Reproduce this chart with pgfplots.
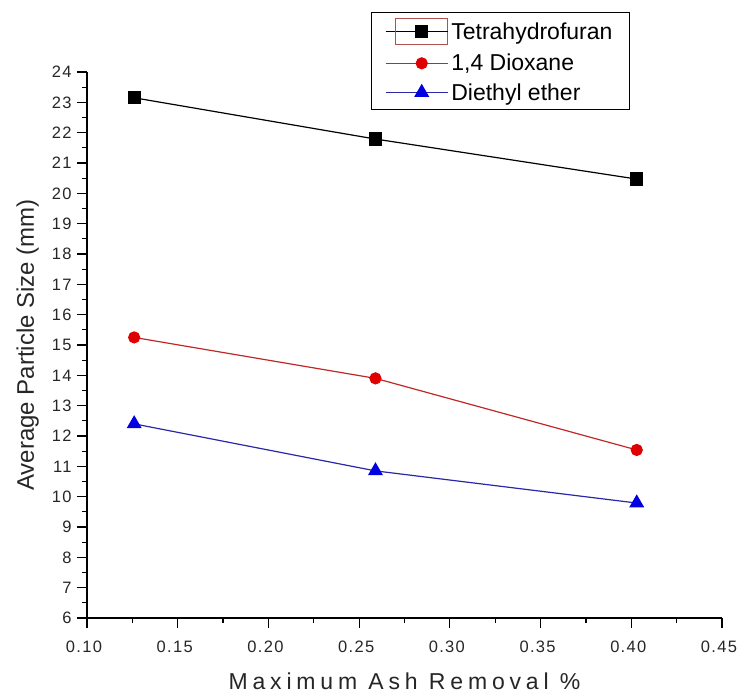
\documentclass[border=0pt]{standalone}
\usepackage{pgfplots}
\pgfplotsset{compat=1.18}
\usepackage{fontspec}
\setmainfont{Liberation Sans}
\definecolor{thf}{HTML}{000000}
\definecolor{diox}{HTML}{E00000}
\definecolor{dioxline}{HTML}{C02828}
\definecolor{ether}{HTML}{0000E0}
\definecolor{etherline}{HTML}{2828A8}
\definecolor{selbox}{HTML}{B05050}
\pgfplotsset{
  plainimg/.style={legend image code/.code={
     \path (-10pt,0pt) -- (52pt,0pt);
     \draw[mark repeat=2,mark phase=2,##1] plot coordinates {(0pt,0pt) (26pt,0pt) (52pt,0pt)};}},
  selimg/.style={legend image code/.code={
     \path (-10pt,0pt) -- (52pt,0pt);
     \draw[selbox, line width=0.8pt] (0pt,-13pt) rectangle (52pt,13pt);
     \draw[mark repeat=2,mark phase=2,##1] plot coordinates {(0pt,0pt) (26pt,0pt) (52pt,0pt)};}},
}

\begin{document}
\begin{tikzpicture}
\begin{axis}[
    name=ax,
    at={(0,0)}, anchor=south west,
    scale only axis,
    width=635pt,
    height=546pt,
    xmin=0.10, xmax=0.45,
    ymin=6, ymax=24,
    xtick={0.10,0.15,...,0.45},
    ytick={6,7,...,24},
    minor tick num=1,
    axis x line*=bottom,
    axis y line*=left,
    tick align=outside,
    major tick length=10pt,
    minor tick length=5pt,
    every tick/.style={black, line width=1.2pt},
    axis line style={line width=1.6pt},
    /pgf/number format/assume math mode=true,
    ticklabel style={font=\fontsize{16.5}{18}\selectfont\addfontfeature{LetterSpace=8}, color=black!85},
    xticklabel style={yshift=-9pt, xshift=-3pt, /pgf/number format/.cd, fixed, fixed zerofill, precision=2},
    yticklabel style={xshift=-2pt},
    xlabel={Maximum Ash Removal \%},
    ylabel={Average Particle Size (mm)},
    xlabel style={font=\fontsize{23}{25}\selectfont\addfontfeature{LetterSpace=21}, color=black!85, yshift=-14pt},
    ylabel style={font=\fontsize{24}{26}\selectfont, color=black!85, yshift=6pt},
    legend style={at={(0.855,1.11)}, anchor=north east, draw=black, line width=1pt,
        font=\fontsize{23}{26}\selectfont, row sep=7pt, inner xsep=14pt, inner ysep=6pt,
        nodes={inner xsep=3pt}},
    legend cell align=left,
    plainimg,
]
\addplot[thf, line width=1.2pt, mark=square*, mark size=6pt, mark options={solid}, selimg] coordinates {
  (0.126,23.15) (0.259,21.79) (0.403,20.47)
};
\addlegendentry{Tetrahydrofuran}
\addplot[dioxline, line width=1.2pt, mark=*, mark size=5.5pt, mark options={diox}] coordinates {
  (0.126,15.25) (0.259,13.90) (0.403,11.54)
};
\addlegendentry{1,4 Dioxane}
\addplot[etherline, line width=1.2pt, mark=triangle*, mark size=7.5pt, mark options={ether}] coordinates {
  (0.126,12.40) (0.259,10.85) (0.403,9.79)
};
\addlegendentry{Diethyl ether}
\end{axis}
\pgfresetboundingbox
\useasboundingbox (-87pt,-76pt) rectangle (652pt,618pt);
\end{tikzpicture}
\end{document}
